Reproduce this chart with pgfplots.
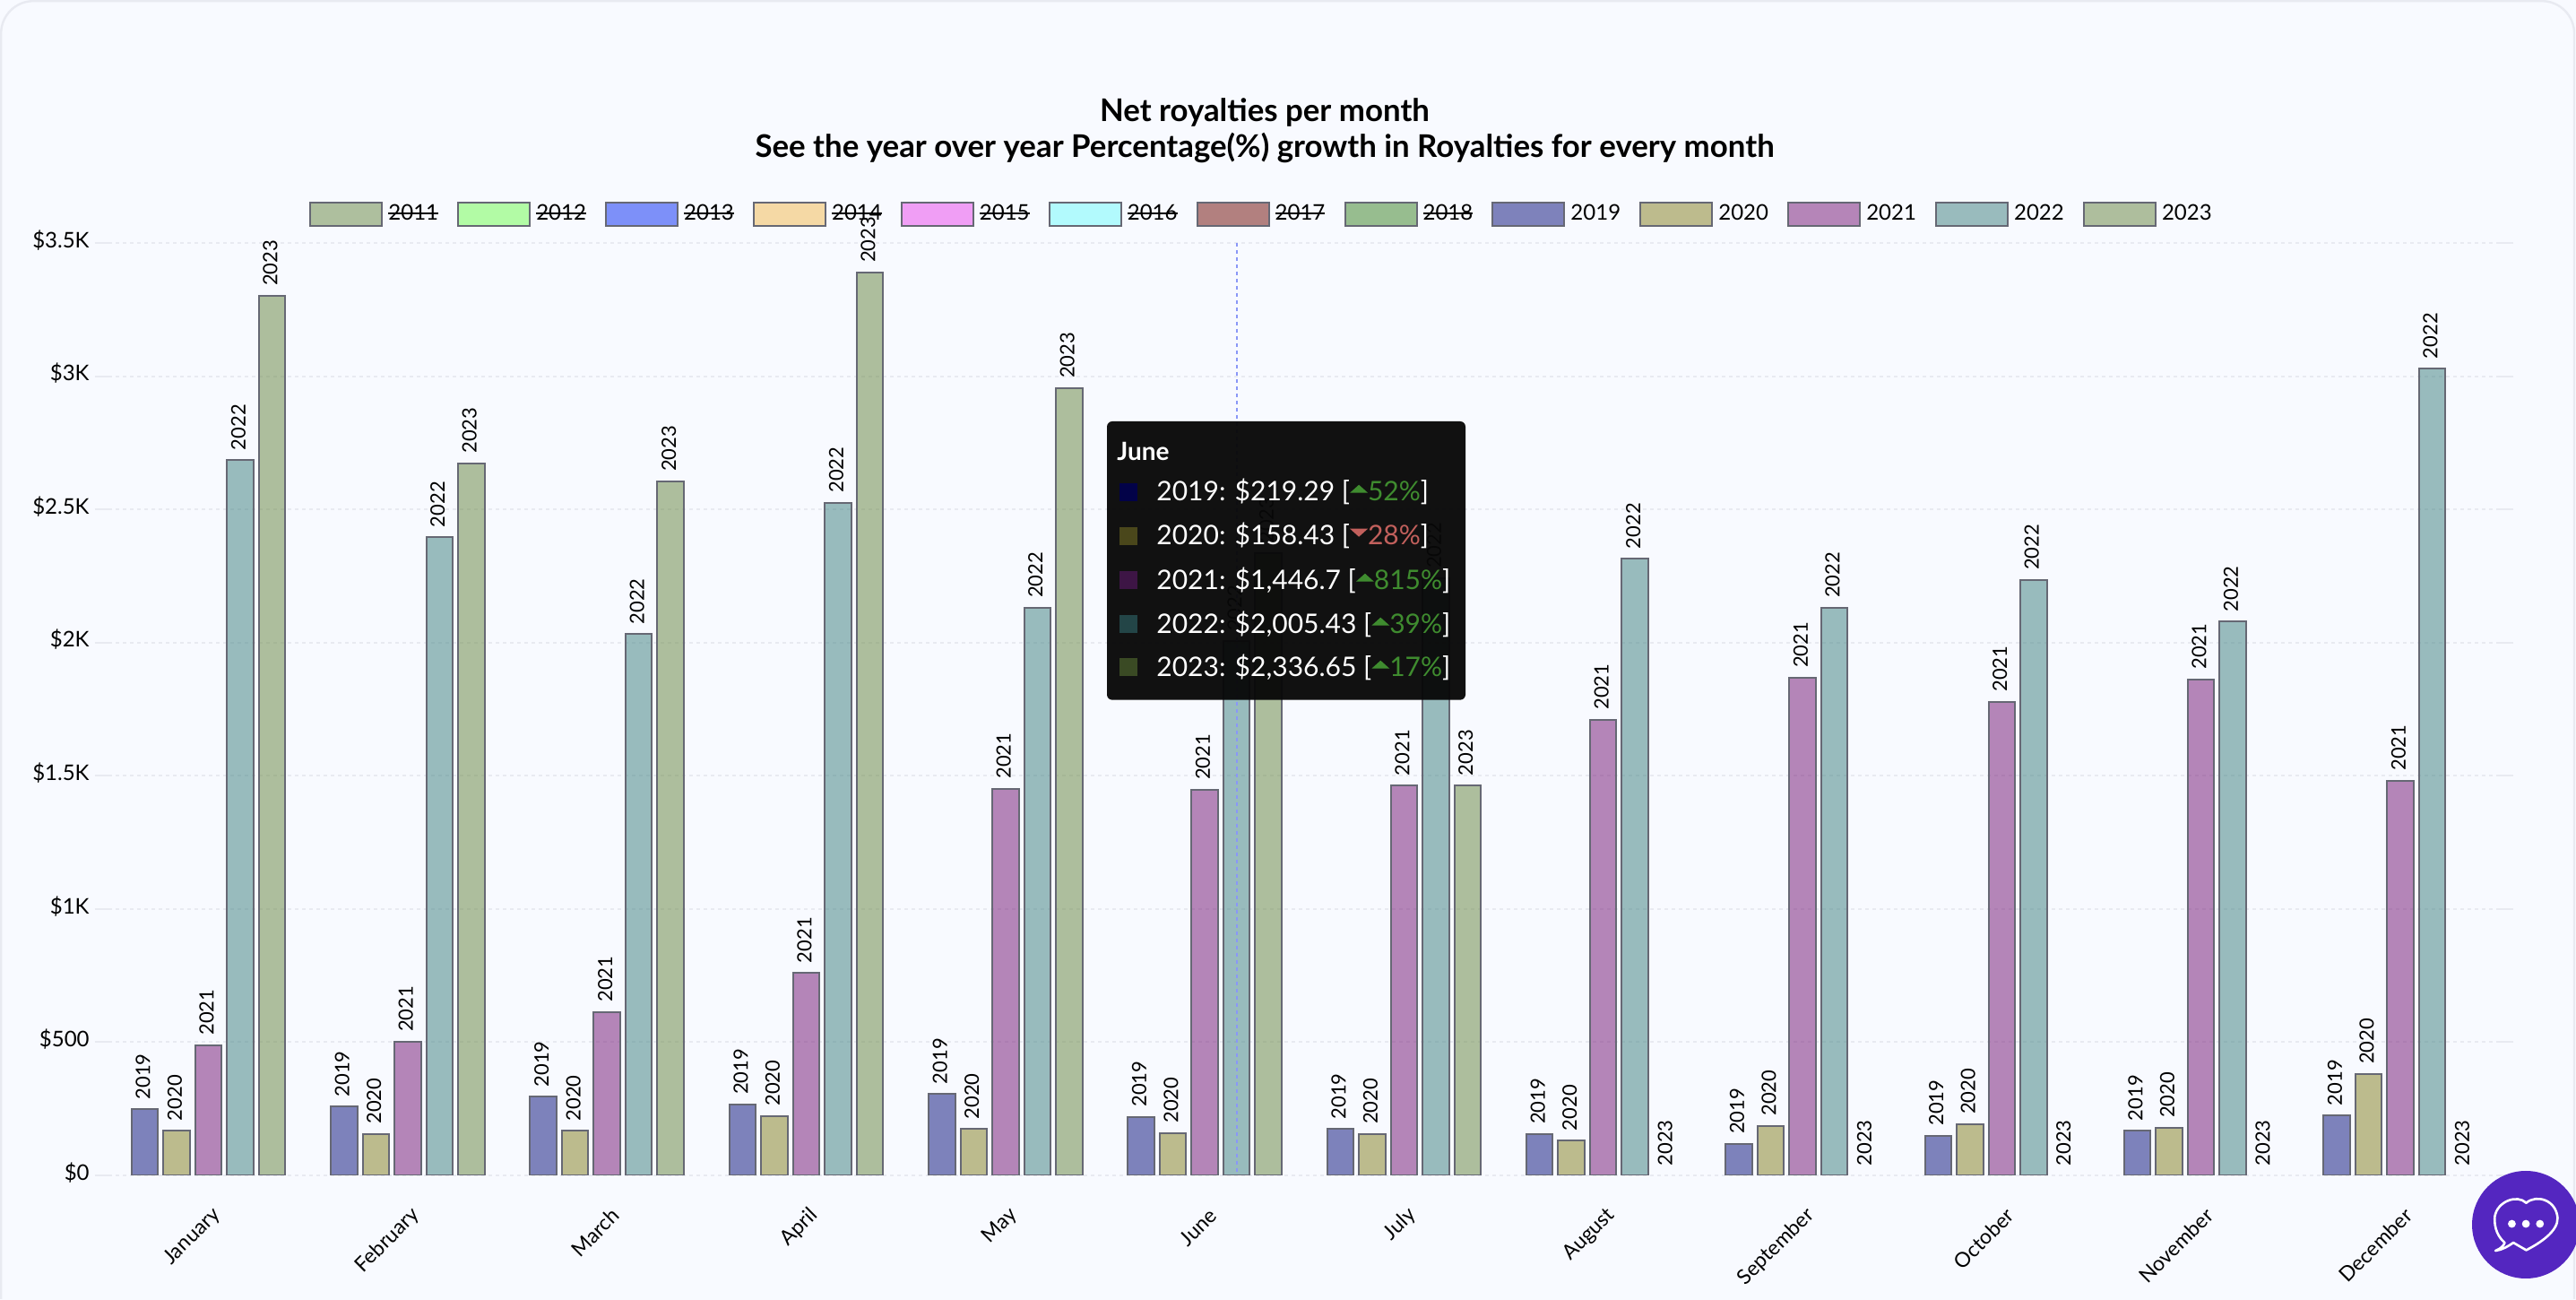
\documentclass[border=0pt]{standalone}
\usepackage{pgfplots}
\pgfplotsset{compat=1.18}
\usepackage{fontspec}
\setmainfont{Lato}
\usepackage{pgfplotstable}
\definecolor{bgc}{HTML}{F8FAFF}
\definecolor{gridc}{HTML}{E8EAF1}
\definecolor{edgec}{HTML}{666874}
\definecolor{c19}{HTML}{040B78}
\definecolor{c20}{HTML}{827D1C}
\definecolor{c21}{HTML}{721172}
\definecolor{c22}{HTML}{3A7D7C}
\definecolor{c23}{HTML}{64833C}
\definecolor{upc}{HTML}{3F8C2F}
\definecolor{dnc}{HTML}{C2605C}
\definecolor{hov}{HTML}{8A97F7}
\definecolor{tipc}{HTML}{080808}
\definecolor{chatc}{HTML}{5426C0}
\definecolor{t19}{HTML}{020248}
\definecolor{t20}{HTML}{4A471B}
\definecolor{t21}{HTML}{3D1545}
\definecolor{t22}{HTML}{234547}
\definecolor{t23}{HTML}{3A4A24}
\definecolor{l11}{HTML}{AEBF9E}
\definecolor{l12}{HTML}{B2FBA5}
\definecolor{l13}{HTML}{7D90F9}
\definecolor{l14}{HTML}{F5D9A5}
\definecolor{l15}{HTML}{F09EF5}
\definecolor{l16}{HTML}{B2FAFD}
\definecolor{l17}{HTML}{B2807F}
\definecolor{l18}{HTML}{97BD8F}
\definecolor{l19}{HTML}{7E82BB}
\definecolor{l20}{HTML}{BDBB8D}
\definecolor{l21}{HTML}{B585B8}
\definecolor{l22}{HTML}{99BBBD}
\definecolor{l23}{HTML}{AEBE9D}
\def\strk#1{\leavevmode\setbox0\hbox{#1}\rlap{\rule[0.3em]{\wd0}{0.9pt}}\box0}
\newcommand{\lgimg}[1]{\addlegendimage{legend image code/.code={\fill[fill=#1] (0pt,-6.5pt) rectangle (40pt,6.5pt);\draw[edgec,line width=1pt] (0pt,-6.5pt) rectangle (40pt,6.5pt);}}}
\newcommand{\up}{\raisebox{0.28em}{\tikz\fill[upc] (0pt,0pt)--(10pt,0pt)--(5pt,4.5pt)--cycle;}}
\newcommand{\dn}{\raisebox{0.28em}{\tikz\fill[dnc] (0pt,4.5pt)--(10pt,4.5pt)--(5pt,0pt)--cycle;}}
\pgfplotstableread{
m v19 v20 v21 v22 v23
0 247 167 488 2685 3302
1 257 155 501 2395 2673
2 294 166 613 2031 2605
3 265 222 759 2525 3389
4 305 173 1451 2130 2955
5 219.29 158.43 1446.7 2005.43 2336.65
6 173 154 1463 2241 1463
7 154 130 1710 2315 nan
8 117 185 1868 2130 nan
9 148 191 1778 2235 nan
10 167 178 1862 2078 nan
11 224 380 1481 3028 nan
}\royalties
\pgfplotstableread{
m z
7 0
8 0
9 0
10 0
11 0
}\zeros
\pgfplotsset{
  barstyle/.style={forget plot,fill opacity=0.5,draw=edgec,draw opacity=1,line width=1pt},
}
\begin{document}
\begin{tikzpicture}
\path[use as bounding box] (0pt,0pt) rectangle (1437pt,725pt);
\fill[bgc] (0pt,0pt) rectangle (1437pt,725pt);
\begin{scope}[shift={(0pt,725pt)},x=0.5pt,y=-0.5pt]
\draw[gridc,line width=1.2pt,rounded corners=18pt] (1.2,1449) -- (1.2,1.2) -- (2872,1.2) -- (2872,1449);
\node[font=\bfseries\fontsize{17.4}{20}\selectfont] at (1411,125) {Net royalties per month};
\node[font=\bfseries\fontsize{17.4}{20}\selectfont] at (1411,165) {See the year over year Percentage(\%) growth in Royalties for every month};
\end{scope}
\begin{axis}[
  at={(60.7pt,69.65pt)},anchor=south west,
  scale only axis,width=1333.8pt,height=519.85pt,
  ybar,bar width=14.75pt,
  xmin=-0.5,xmax=11.5,ymin=0,ymax=3500,
  xtick={0,...,11},
  xticklabels={January,February,March,April,May,June,July,August,September,October,November,December},
  ytick={0,500,1000,1500,2000,2500,3000,3500},
  yticklabels={\$0,\$500,\$1K,\$1.5K,\$2K,\$2.5K,\$3K,\$3.5K},
  axis line style={draw=none},
  xtick style={draw=none},
  ytick style={draw=gridc,line width=1pt},
  major tick length=7.7pt,
  tick align=outside,
  ymajorgrids,
  major grid style={draw=gridc,line width=1pt,dash pattern=on 2pt off 2pt},
  yticklabel style={font=\fontsize{12}{14}\selectfont,inner xsep=0pt,anchor=east,xshift=-3pt,yshift=1.5pt},
  xticklabel style={font=\fontsize{11.5}{14}\selectfont,rotate=45,anchor=east,xshift=-5.6pt,yshift=-12.5pt,inner sep=0pt},
  every node near coord/.append style={xshift=-1pt,rotate=90,anchor=west,font=\fontsize{11}{13}\selectfont,inner xsep=5pt,inner ysep=0pt,black,text opacity=1,fill opacity=1,draw opacity=0},
  legend columns=13,
  legend style={draw=none,fill=none,
    at={(axis description cs:0.4829,1.0311)},anchor=center,
    font=\fontsize{12}{14}\selectfont,
    /tikz/every even column/.append style={column sep=7.6pt},
    /tikz/every odd column/.append style={column sep=0pt},
    nodes={inner sep=0pt,inner xsep=3pt}},
]
\lgimg{l11}
\lgimg{l12}
\lgimg{l13}
\lgimg{l14}
\lgimg{l15}
\lgimg{l16}
\lgimg{l17}
\lgimg{l18}
\lgimg{l19}
\lgimg{l20}
\lgimg{l21}
\lgimg{l22}
\lgimg{l23}
\addplot[barstyle,fill=c19,bar shift=-35.5pt,nodes near coords=2019] table[x=m,y=v19]{\royalties};
\addplot[barstyle,fill=c20,bar shift=-17.75pt,nodes near coords=2020] table[x=m,y=v20]{\royalties};
\addplot[barstyle,fill=c21,bar shift=0pt,nodes near coords=2021] table[x=m,y=v21]{\royalties};
\addplot[barstyle,fill=c22,bar shift=17.75pt,nodes near coords=2022] table[x=m,y=v22]{\royalties};
\addplot[barstyle,fill=c23,bar shift=35.5pt,nodes near coords=2023] table[x=m,y=v23]{\royalties};
\addplot[forget plot,draw=none,fill=none,bar shift=35.5pt,nodes near coords=2023] table[x=m,y=z]{\zeros};
\legend{\strk{2011},\strk{2012},\strk{2013},\strk{2014},\strk{2015},\strk{2016},\strk{2017},\strk{2018},2019,2020,2021,2022,2023}
\end{axis}
\begin{scope}[shift={(0pt,725pt)},x=0.5pt,y=-0.5pt]
\draw[hov,line width=1.2pt,dash pattern=on 2pt off 2pt] (1380,271) -- (1380,1310);
\fill[tipc,fill opacity=0.96,rounded corners=3pt] (1235,470) rectangle (1635,780.7);
\node[anchor=west,white,inner sep=0pt,font=\bfseries\fontsize{14}{16}\selectfont] at (1246,504) {June};
\fill[t19] (1249,539) rectangle (1269,559);
\fill[t20] (1249,588) rectangle (1269,608);
\fill[t21] (1249,637) rectangle (1269,657);
\fill[t22] (1249,686) rectangle (1269,706);
\fill[t23] (1249,734) rectangle (1269,754);
\begin{scope}[every node/.style={anchor=west,white,inner sep=0pt,font=\fontsize{15}{18}\selectfont}]
\node at (1290,548) {2019: \$219.29 [\up\textcolor{upc}{52\%}]};
\node at (1290,597) {2020: \$158.43 [\dn\textcolor{dnc}{28\%}]};
\node at (1290,647) {2021: \$1,446.7 [\up\textcolor{upc}{815\%}]};
\node at (1290,696) {2022: \$2,005.43 [\up\textcolor{upc}{39\%}]};
\node at (1290,744) {2023: \$2,336.65 [\up\textcolor{upc}{17\%}]};
\end{scope}
\fill[chatc] (2818,1366) circle [radius=30pt];
\begin{scope}[shift={(2400,1100)},x=0.1667pt,y=-0.1667pt]
\draw[white,line width=1.3pt,line join=round] (1152,885) .. controls (1170,878) and (1180,868) .. (1183,858)
  .. controls (1150,830) and (1148,790) .. (1150,770)
  .. controls (1158,720) and (1225,695) .. (1255,725)
  .. controls (1290,695) and (1355,715) .. (1360,775)
  .. controls (1362,820) and (1300,860) .. (1255,883)
  -- (1212,858) .. controls (1195,870) and (1175,882) .. (1152,885) -- cycle;
\fill[white] (1207,795) circle [radius=2.2pt] (1254,795) circle [radius=2.2pt] (1301,795) circle [radius=2.2pt];
\end{scope}
\end{scope}
\end{tikzpicture}
\end{document}
